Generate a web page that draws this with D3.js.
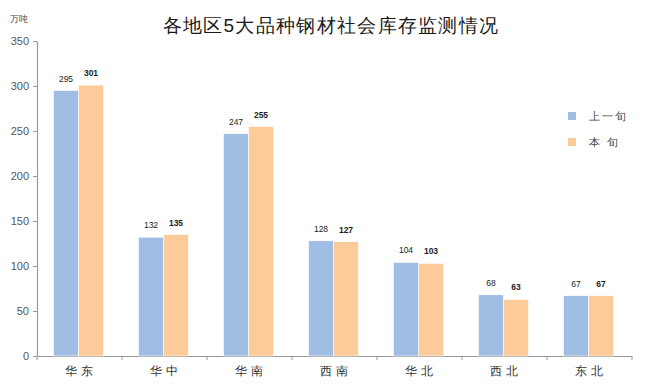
<!DOCTYPE html>
<html>
<head>
<meta charset="utf-8">
<script src="https://cdn.jsdelivr.net/npm/d3@7"></script>
<style>
  body { margin: 0; background: #fff; }
  text { font-family: "Liberation Sans", Arial, sans-serif; }
</style>
</head>
<body>
<div id="chart"></div>
<script>
// regions and the two series (万吨)
var regions = ["华东", "华中", "华南", "西南", "华北", "西北", "东北"];
var lastPeriod = [295, 132, 247, 128, 104, 68, 67];
var thisPeriod = [301, 135, 255, 127, 103, 63, 67];
var seriesNames = ["上一旬", "本 旬"];
var yTicks = [0, 50, 100, 150, 200, 250, 300, 350];

var w = 648, h = 387;
var plotLeft = 37, plotRight = 632, plotTop = 41, plotBottom = 356;
var colors = ["#a0bee4", "#fdcb9a"];

var svg = d3.select("#chart").append("svg")
  .attr("width", w)
  .attr("height", h);

var x = d3.scaleBand().domain(regions).range([plotLeft, plotRight]).paddingInner(0).paddingOuter(0);
var inner = d3.scaleBand().domain([0, 1]).range([-1, x.bandwidth() - 1]).paddingOuter(0.7).paddingInner(0);
var y = d3.scaleLinear().domain([0, 350]).range([plotBottom, plotTop]);

// title + unit
svg.append("text")
  .attr("x", 331).attr("y", 32)
  .attr("text-anchor", "middle")
  .attr("font-family", "'Noto Sans CJK SC', sans-serif")
  .attr("font-size", "19px")
  .attr("font-weight", "500")
  .attr("letter-spacing", "1.3px")
  .attr("fill", "#1a1a1a")
  .text("各地区5大品种钢材社会库存监测情况");

svg.append("text")
  .attr("x", 10).attr("y", 22)
  .attr("font-family", "'Noto Sans CJK SC', sans-serif")
  .attr("font-size", "9px")
  .attr("fill", "#444")
  .text("万吨");

// y axis
var yAxis = svg.append("g")
  .attr("transform", "translate(" + plotLeft + ",0)")
  .call(d3.axisLeft(y).tickValues(yTicks).tickSize(4).tickSizeOuter(0));
yAxis.select(".domain").attr("stroke", "#999").attr("stroke-width", 1.2);
yAxis.selectAll(".tick line").attr("stroke", "#999");
yAxis.selectAll(".tick text")
  .attr("font-size", "11px")
  .attr("font-family", "'Liberation Sans', Arial, sans-serif")
  .attr("fill", "#555")
  .attr("x", -8);

// x axis
var xAxis = svg.append("g")
  .attr("transform", "translate(0," + plotBottom + ")")
  .call(d3.axisBottom(x).tickSize(0).tickSizeOuter(0));
xAxis.select(".domain").attr("stroke", "#999").attr("stroke-width", 1.2);
xAxis.selectAll(".tick text")
  .attr("font-size", "12px")
  .attr("font-family", "'Noto Sans CJK SC', sans-serif")
  .attr("fill", "#333")
  .attr("letter-spacing", "4px")
  .attr("dx", "1px")
  .attr("y", 10);

// category separator ticks
var seps = regions.map(function(r) { return x(r); }).concat([plotRight]);
svg.selectAll(".sep")
  .data(seps)
  .enter()
  .append("line")
  .attr("x1", function(d) { return d; })
  .attr("x2", function(d) { return d; })
  .attr("y1", plotBottom)
  .attr("y2", plotBottom + 4)
  .attr("stroke", "#999");

var series = [lastPeriod, thisPeriod];
series.forEach(function(vals, s) {
  svg.selectAll(".bar" + s)
    .data(vals)
    .enter()
    .append("rect")
    .attr("x", function(d, i) { return x(regions[i]) + inner(s); })
    .attr("y", function(d) { return y(d); })
    .attr("width", inner.bandwidth())
    .attr("height", function(d) { return plotBottom - y(d); })
    .attr("fill", colors[s])
    .attr("stroke", "#fff")
    .attr("stroke-width", 0.6);

  svg.selectAll(".lab" + s)
    .data(vals)
    .enter()
    .append("text")
    .text(function(d) { return d; })
    .attr("text-anchor", "middle")
    .attr("x", function(d, i) { return x(regions[i]) + inner(s) + inner.bandwidth() / 2; })
    .attr("y", function(d) { return y(d) - 9; })
    .attr("font-size", "8.5px")
    .attr("font-weight", s === 1 ? "bold" : "normal")
    .attr("fill", "#222");
});

// legend
var legend = svg.selectAll(".legend")
  .data(seriesNames)
  .enter()
  .append("g")
  .attr("transform", function(d, i) { return "translate(568," + (112 + i * 26) + ")"; });
legend.append("rect")
  .attr("width", 8).attr("height", 8)
  .attr("fill", function(d, i) { return colors[i]; });
legend.append("text")
  .attr("x", 21).attr("y", 8)
  .attr("font-family", "'Noto Sans CJK SC', sans-serif")
  .attr("font-size", "11px")
  .attr("fill", "#444")
  .attr("letter-spacing", "2px")
  .text(function(d) { return d; });
</script>
</body>
</html>
